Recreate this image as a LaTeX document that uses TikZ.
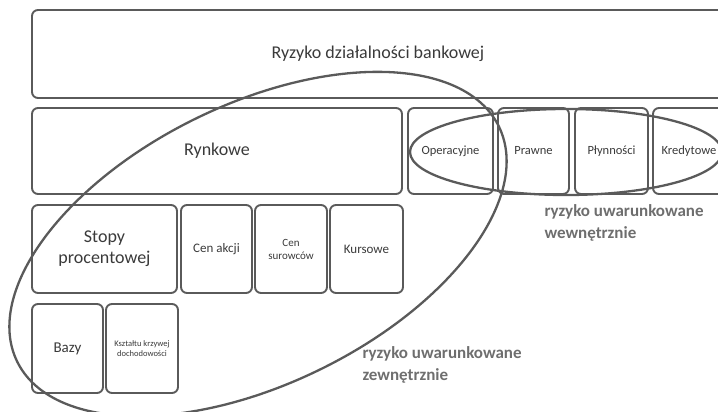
\documentclass[tikz,border=0pt]{standalone}
\usepackage{fontspec}
\setmainfont{Carlito}
\begin{document}
\definecolor{edge}{HTML}{5A5A5A}
\definecolor{ink}{HTML}{3A3A3A}
\definecolor{note}{HTML}{6E6E6E}
\begin{tikzpicture}[x=1pt,y=-1pt,
  riskbox/.style={draw=edge, line width=1.9pt, rounded corners=6pt, text=ink,
    inner sep=0pt, align=center},
  zone/.style={draw=edge, line width=2.3pt},
  zonelabel/.style={anchor=base west, align=left, text=note, font=\bfseries\fontsize{17}{22}\selectfont}]
\useasboundingbox (0,0) rectangle (718,412);
\clip (0,0) rectangle (718,412);
% box given by its corners: \rbox{name}{x1}{y1}{x2}{y2}{size}{text}
\newcommand\rbox[7]{%
  \node[riskbox, minimum width=#4-#2, minimum height=#5-#3,
    font=\fontsize{#6}{#6}\selectfont] (#1) at ({(#2+#4)/2},{(#3+#5)/2}) {#7};}
% top level
\rbox{bank}{32}{10}{724}{98}{18}{Ryzyko działalności bankowej}
% second row
\rbox{rynk}{32}{108}{402}{194}{18}{Rynkowe}
\rbox{oper}{408}{108}{493}{194}{12.5}{Operacyjne}
\rbox{praw}{498}{108}{569}{194}{12.5}{Prawne}
\rbox{plyn}{575}{108}{648}{194}{12.5}{Płynności}
\rbox{kred}{653}{108}{725}{194}{12.5}{Kredytowe}
% market risk components
\node[riskbox, minimum width=145, minimum height=88,
  font=\fontsize{18}{21}\selectfont] (stopy) at (104.5,249) {Stopy\\procentowej};
\rbox{cena}{181}{205}{252}{293}{13}{Cen akcji}
\node[riskbox, minimum width=72, minimum height=88,
  font=\fontsize{11}{13}\selectfont] (cens) at (291,249) {Cen\\surowców};
\rbox{kurs}{330}{205}{403}{293}{13}{Kursowe}
% interest rate components
\rbox{bazy}{32}{304}{103}{393}{15}{Bazy}
\node[riskbox, minimum width=72, minimum height=89,
  font=\fontsize{8.5}{10}\selectfont] (ksz) at (142,348.5) {Kształtu krzywej\\dochodowości};
% grouping ellipses
\draw[zone, rotate around={26:(258,244)}] (258,244) ellipse [x radius=268pt, y radius=140pt];
\draw[zone] (566,152) ellipse [x radius=156pt, y radius=43pt];
% group labels (anchored at the baseline of the last line)
\node[zonelabel] (wew) at (541,238) {ryzyko uwarunkowane\\wewnętrznie};
\node[zonelabel] (zew) at (359,380) {ryzyko uwarunkowane\\zewnętrznie};
\end{tikzpicture}
\end{document}
